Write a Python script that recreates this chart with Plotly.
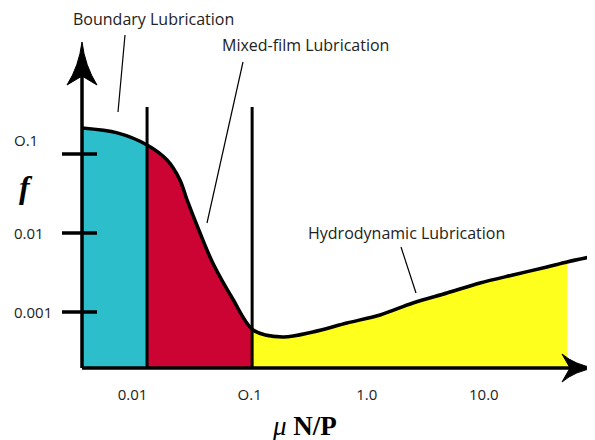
import numpy as np
import plotly.graph_objects as go

# Stribeck curve: coefficient of friction f vs bearing parameter mu*N/P
mu_np = [0.0037, 0.0074, 0.0133, 0.0197, 0.0254, 0.0292, 0.0377, 0.0487, 0.072,
         0.107, 0.192, 0.347, 0.678, 1.30, 2.48, 4.84, 9.27, 17.7, 34.6, 51.3, 89]
friction = [0.213, 0.185, 0.130, 0.0839, 0.0469, 0.0262, 0.0100, 0.0041, 0.00145,
            0.000591, 0.000483, 0.000559, 0.000726, 0.000917, 0.00130, 0.00174,
            0.00233, 0.00294, 0.00371, 0.00430, 0.00512]

# regime edges along mu*N/P
regime_edges = [0.0037, 0.0133, 0.105, 51.3]
regime_names = ["Boundary Lubrication", "Mixed-film Lubrication", "Hydrodynamic Lubrication"]
regime_colors = ["#2cbfcb", "#cc0434", "#ffff1e"]

x_tick_vals = [0.01, 0.1, 1, 10]
x_tick_text = ["0.01", "O.1", "1.0", "10.0"]
y_tick_vals = [0.1, 0.01, 0.001]
y_tick_text = ["O.1", "0.01", "0.001"]

FONT = "Open Sans"
W, H = 595, 440
# page body has an 8px margin, so the plot box is placed 8px up/left
L, R, T, B = 74, 8, 34, 80
PW, PH = W - L - R, H - T - B


# helpers taking positions as seen on the page
def px(x):
    return (x - 8 - L) / PW


def py(y):
    return (H - B - (y - 8)) / PH


def f_at(x):
    return 10 ** np.interp(np.log10(x), np.log10(mu_np), np.log10(friction))


fig = go.Figure()

# shaded regimes
floor = 1e-5
for i, color in enumerate(regime_colors):
    x0, x1 = regime_edges[i], regime_edges[i + 1]
    inner = [x for x in mu_np if x0 < x < x1]
    xs = [x0] + inner + [x1]
    ys = [f_at(x) for x in xs]
    fig.add_trace(go.Scatter(
        x=xs + [x1, x0], y=ys + [floor, floor],
        fill="toself", fillcolor=color, mode="none", hoverinfo="skip",
        name=regime_names[i],
    ))

# the curve itself
fig.add_trace(go.Scatter(
    x=mu_np, y=friction, mode="lines",
    line=dict(color="black", width=3.5, shape="spline", smoothing=0.9),
    hoverinfo="skip",
))

shapes = []
# regime dividers
for xe in regime_edges[1:3]:
    shapes.append(dict(type="line", xref="x", yref="paper", x0=xe, x1=xe,
                       y0=0, y1=py(107), line=dict(color="black", width=3)))
# axes
shapes.append(dict(type="line", xref="paper", yref="paper", x0=0, x1=0, y0=0, y1=0.95,
                   line=dict(color="black", width=3.5)))
shapes.append(dict(type="line", xref="paper", yref="paper", x0=0, x1=0.97, y0=0, y1=0,
                   line=dict(color="black", width=3.5)))
# arrowheads
shapes.append(dict(type="path", xref="paper", yref="paper", xsizemode="pixel", ysizemode="pixel",
                   xanchor=0, yanchor=1,
                   path="M0,0 Q3,-24 15,-43 L0,-34 L-15,-43 Q-3,-24 0,0 Z",
                   fillcolor="black", line=dict(color="black", width=1)))
shapes.append(dict(type="path", xref="paper", yref="paper", xsizemode="pixel", ysizemode="pixel",
                   xanchor=1, yanchor=0,
                   path="M0,0 Q-20,3 -33,14 L-25,0 L-33,-14 Q-20,-3 0,0 Z",
                   fillcolor="black", line=dict(color="black", width=1)))
# y ticks crossing the axis
for v in y_tick_vals:
    shapes.append(dict(type="line", xref="paper", yref="y", x0=px(62), x1=px(97), y0=v, y1=v,
                       line=dict(color="black", width=3.5)))
# leader lines for labels
leaders = [((125, 35), (118, 112)), ((243, 62), (207, 223)), ((401, 247), (416, 293))]
for (a, b) in leaders:
    shapes.append(dict(type="line", xref="paper", yref="paper",
                       x0=px(a[0]), y0=py(a[1]), x1=px(b[0]), y1=py(b[1]),
                       line=dict(color="black", width=1.2)))

annotations = []
label_pos = [(153, 19), (305, 45), (406, 233)]
for name, (lx, ly) in zip(regime_names, label_pos):
    annotations.append(dict(text=name, xref="paper", yref="paper", x=px(lx), y=py(ly),
                            xanchor="center", yanchor="middle", showarrow=False,
                            font=dict(family=FONT, size=16, color="#222")))
for v, t in zip(y_tick_vals, y_tick_text):
    annotations.append(dict(text=t, xref="paper", yref="y", x=px(12), y=np.log10(v),
                            xanchor="left", yanchor="middle", showarrow=False,
                            yshift=14 if v == 0.1 else 0,
                            font=dict(family=FONT, size=15, color="#222")))
annotations.append(dict(text="f", xref="paper", yref="paper", x=px(26), y=py(187),
                        xanchor="center", yanchor="middle", showarrow=False,
                        font=dict(family="Liberation Serif", size=32, color="black",
                                  style="italic", weight="bold")))
annotations.append(dict(text="<i>μ</i> <b>N/P</b>", xref="paper", yref="paper",
                        x=px(304), y=py(426), xanchor="center", yanchor="middle",
                        showarrow=False,
                        font=dict(family="Liberation Serif", size=27, color="black")))

fig.update_layout(
    width=W, height=H,
    margin=dict(l=L, r=R, t=T, b=B),
    plot_bgcolor="white", paper_bgcolor="white",
    showlegend=False,
    shapes=shapes, annotations=annotations,
    xaxis=dict(type="log", range=[np.log10(0.0037), np.log10(89)],
               showgrid=False, zeroline=False, showline=False, ticks="",
               tickvals=x_tick_vals, ticktext=x_tick_text, ticklabelstandoff=16,
               tickfont=dict(family=FONT, size=15, color="#222")),
    yaxis=dict(type="log", range=[-3.709, 0.4177],
               showgrid=False, zeroline=False, showline=False, ticks="",
               showticklabels=False),
)

fig.write_html("out.html")
